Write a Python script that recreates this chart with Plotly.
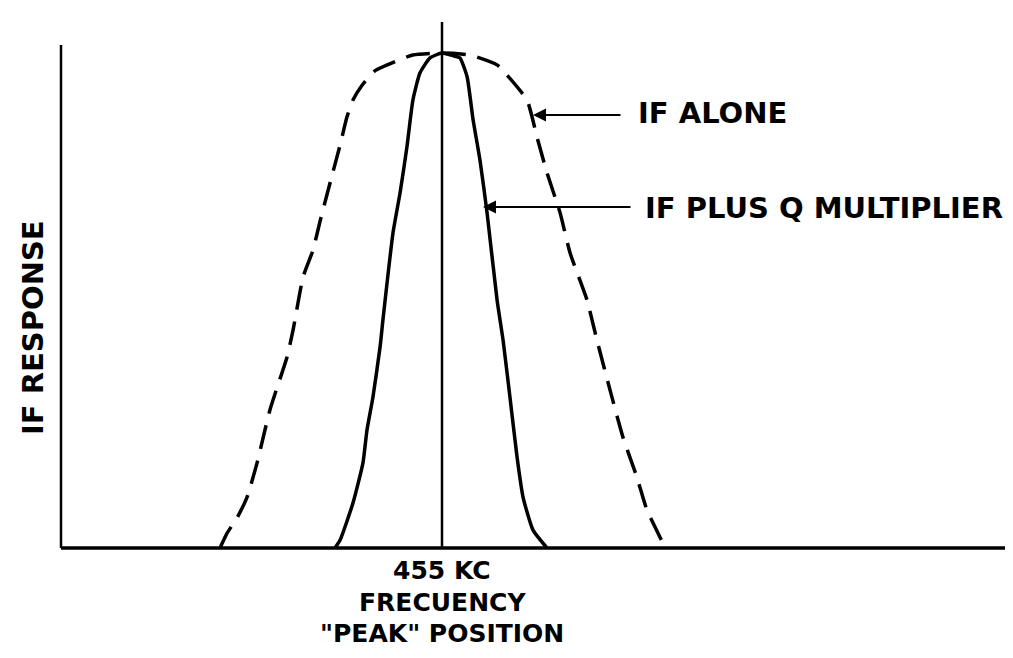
import plotly.graph_objects as go

# ---- data (frequency offset from 455 kc, relative IF response) ----
center_kc = 455
if_alone_dx = [-10.0, -9.68, -9.23, -8.78, -8.33, -7.75, -6.98, -6.71, -6.26, -5.81, -5.50,
               -4.91, -4.59, -4.28, -4.01, -3.60, -3.02, -2.03, -1.31, 0.0, 1.26, 2.48, 2.84,
               3.83, 4.28, 4.73, 5.32, 5.77, 6.53, 6.98, 7.57, 8.15, 8.78, 9.23, 9.95, 10.05]
if_alone_y = [0.0, 0.030, 0.061, 0.103, 0.172, 0.279, 0.386, 0.440, 0.547, 0.602, 0.659,
              0.760, 0.814, 0.871, 0.905, 0.935, 0.964, 0.984, 0.996, 1.0, 0.996, 0.976, 0.960,
              0.905, 0.830, 0.758, 0.677, 0.596, 0.501, 0.420, 0.319, 0.224, 0.143, 0.077, 0.010, 0.0]
if_q_dx = [-4.82, -4.59, -4.01, -3.56, -3.38, -3.11, -2.79, -2.66, -2.21, -1.89, -1.58, -1.31,
           -0.99, -0.54, 0.0, 0.54, 0.81, 1.13, 1.40, 1.71, 2.03, 2.48, 2.75, 3.06, 3.38, 3.65,
           4.10, 4.73]
if_q_y = [0.0, 0.016, 0.091, 0.172, 0.238, 0.305, 0.406, 0.461, 0.636, 0.717, 0.810, 0.905,
          0.960, 0.990, 1.0, 0.994, 0.990, 0.952, 0.865, 0.784, 0.677, 0.501, 0.420, 0.305,
          0.184, 0.103, 0.036, 0.0]
label_alone = "IF ALONE"
label_q = "IF PLUS Q MULTIPLIER"
y_title = "IF RESPONSE"
x_labels = ["455 KC", "FRECUENCY", "\"PEAK\" POSITION"]

# ---- layout geometry (pixels); page body adds an 8px offset ----
OFF = 8
W, H = 997, 642
ML, MR, MT, MB = 42, 0, 8, 92
PX_CENTER, PX_PER_KC = 442, 22.2
PY_BASE, PY_PER_UNIT = 548, 495
PLOT_W = W - ML - MR
PLOT_H = H - MT - MB


def kx(px):
    return center_kc + (px - PX_CENTER) / PX_PER_KC


def vy(py):
    return (PY_BASE - py) / PY_PER_UNIT


def paper_x(px):
    return (px - OFF - ML) / PLOT_W


def paper_y(py):
    return (H - MB - (py - OFF)) / PLOT_H


x_range = [kx(ML + OFF), kx(W - MR + OFF)]
y_range = [vy(H - MB + OFF), vy(MT + OFF)]

FONT = dict(family="DejaVu Sans", size=29, color="black")
FONT_X = dict(family="DejaVu Sans", size=25, color="black")

fig = go.Figure()
fig.add_trace(go.Scatter(
    x=[center_kc + d for d in if_alone_dx], y=if_alone_y, mode="lines",
    line=dict(color="black", width=3.5, dash="24px,12px", shape="spline", smoothing=0.5),
    hoverinfo="skip"))
fig.add_trace(go.Scatter(
    x=[center_kc + d for d in if_q_dx], y=if_q_y, mode="lines",
    line=dict(color="black", width=3.5, shape="spline", smoothing=0.5), hoverinfo="skip"))

shapes = [
    dict(type="line", x0=kx(61), x1=kx(61), y0=0, y1=vy(45), line=dict(color="black", width=2.5)),
    dict(type="line", x0=kx(61), x1=kx(1013), y0=0, y1=0, line=dict(color="black", width=3.5)),
    dict(type="line", x0=center_kc, x1=center_kc, y0=0, y1=vy(22), line=dict(color="black", width=2.5)),
]

annotations = [
    # arrows
    dict(x=kx(533), y=vy(115), ax=kx(622), ay=vy(115), xref="x", yref="y", axref="x", ayref="y",
         text="", showarrow=True, arrowhead=2, arrowsize=1.3, arrowwidth=2, arrowcolor="black"),
    dict(x=kx(483), y=vy(207), ax=kx(632), ay=vy(207), xref="x", yref="y", axref="x", ayref="y",
         text="", showarrow=True, arrowhead=2, arrowsize=1.3, arrowwidth=2, arrowcolor="black"),
    # labels
    dict(x=paper_x(636), y=paper_y(113), xref="paper", yref="paper", text="<b>" + label_alone + "</b>",
         showarrow=False, xanchor="left", yanchor="middle", font=FONT),
    dict(x=paper_x(643), y=paper_y(208), xref="paper", yref="paper", text="<b>" + label_q + "</b>",
         showarrow=False, xanchor="left", yanchor="middle", font=FONT),
    dict(x=paper_x(33), y=paper_y(328), xref="paper", yref="paper", text="<b>" + y_title + "</b>",
         textangle=-90, showarrow=False, xanchor="center", yanchor="middle", font=FONT),
]
for txt, py in zip(x_labels, [570, 602, 634]):
    annotations.append(dict(x=paper_x(442), y=paper_y(py), xref="paper", yref="paper",
                            text="<b>" + txt + "</b>", showarrow=False,
                            xanchor="center", yanchor="middle", font=FONT_X))

fig.update_layout(
    width=W, height=H, margin=dict(l=ML, r=MR, t=MT, b=MB),
    paper_bgcolor="white", plot_bgcolor="white", showlegend=False,
    xaxis=dict(range=x_range, visible=False, fixedrange=True),
    yaxis=dict(range=y_range, visible=False, fixedrange=True),
    shapes=shapes, annotations=annotations,
)
fig.write_html("out.html")
